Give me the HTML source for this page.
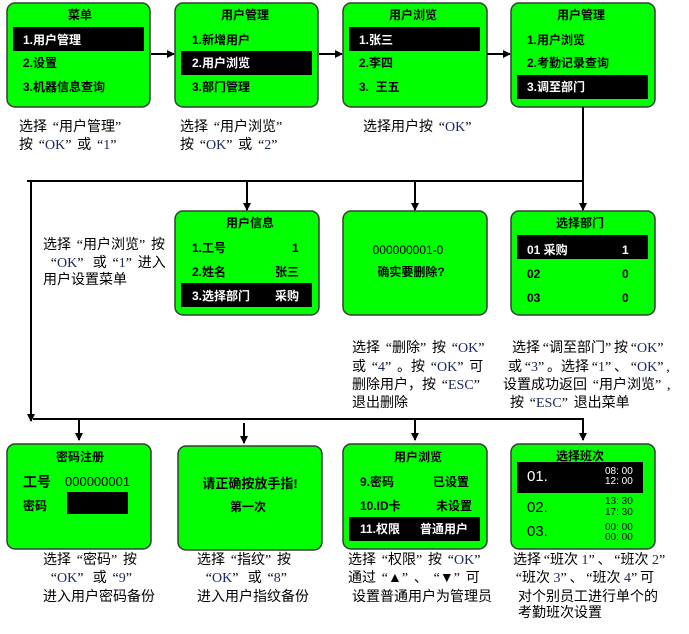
<!DOCTYPE html>
<html><head><meta charset="utf-8">
<style>
html,body{margin:0;padding:0;background:#fff;}
#c{position:relative;width:689px;height:634px;overflow:hidden;background:#fff;}
svg{position:absolute;left:0;top:0;}
.t{position:absolute;white-space:nowrap;font-family:"Liberation Sans","WenQuanYi Zen Hei","Noto Sans CJK SC",sans-serif;font-weight:bold;font-size:12px;line-height:14px;color:#000;}
.w{color:#fff;}
.ctr{text-align:center;}
.cap{position:absolute;white-space:nowrap;font-family:"Liberation Serif","Noto Sans CJK SC",sans-serif;font-size:14px;line-height:18px;color:#000;}
.cap b{font-weight:normal;color:#1a2a60;}
.cap i{font-style:normal;display:inline-block;width:12px;}
.cap i.o{text-align:right;}
.cap i.c{text-align:left;}
.cap.n i{width:9px;}
</style></head><body>
<div id="c">
<svg width="689" height="634" viewBox="0 0 689 634">
<defs>
<marker id="a" markerWidth="8" markerHeight="8" refX="7" refY="4" orient="auto" markerUnits="userSpaceOnUse">
<path d="M0,0 L8,4 L0,8 z" fill="#000"/>
</marker>
</defs>
<g fill="#00ff00" stroke="#3a3a3a" stroke-width="1.5">
<rect x="7" y="3" width="143" height="104" rx="8"/>
<rect x="175" y="3" width="143" height="104" rx="8"/>
<rect x="343" y="3" width="144" height="104" rx="8"/>
<rect x="511" y="3" width="144" height="104" rx="8"/>
<rect x="175" y="211" width="144" height="104" rx="8"/>
<rect x="343" y="211" width="144" height="104" rx="8"/>
<rect x="511" y="211" width="144" height="104" rx="8"/>
<rect x="7" y="444" width="144" height="105" rx="8"/>
<rect x="178" y="446" width="144" height="104" rx="8"/>
<rect x="343" y="444" width="144" height="105" rx="8"/>
<rect x="511" y="444" width="144" height="105" rx="8"/>
</g>
<g fill="#000">
<rect x="13" y="27" width="131" height="24"/>
<rect x="181" y="51" width="131" height="24"/>
<rect x="349" y="27" width="131" height="24"/>
<rect x="517" y="75" width="131" height="24"/>
<rect x="181" y="283" width="131" height="24"/>
<rect x="517" y="235" width="131" height="24"/>
<rect x="67" y="492" width="61" height="22"/>
<rect x="349" y="517" width="131" height="24"/>
<rect x="517" y="462" width="126" height="31"/>
</g>
<g stroke="#000" stroke-width="2" fill="none">
<line x1="151" y1="54" x2="174" y2="54" marker-end="url(#a)"/>
<line x1="319" y1="54" x2="342" y2="54" marker-end="url(#a)"/>
<line x1="487" y1="54" x2="510" y2="54" marker-end="url(#a)"/>
<line x1="583" y1="107" x2="583" y2="181"/>
<line x1="27" y1="181" x2="584" y2="181"/>
<line x1="247" y1="181" x2="247" y2="210" marker-end="url(#a)"/>
<line x1="415" y1="181" x2="415" y2="210" marker-end="url(#a)"/>
<line x1="583" y1="181" x2="583" y2="210" marker-end="url(#a)"/>
<line x1="31" y1="182" x2="31" y2="421" marker-end="url(#a)"/>
<line x1="33" y1="419" x2="584" y2="419"/>
<line x1="79" y1="419" x2="79" y2="440" marker-end="url(#a)"/>
<line x1="244" y1="423" x2="244" y2="443" marker-end="url(#a)"/>
<line x1="415" y1="419" x2="415" y2="440" marker-end="url(#a)"/>
<line x1="583" y1="419" x2="583" y2="440" marker-end="url(#a)"/>
</g>
</svg>

<!-- Box1 -->
<div class="t ctr" style="left:7px;width:146px;top:8px;">菜单</div>
<div class="t w" style="left:23px;top:33px;">1.用户管理</div>
<div class="t" style="left:23px;top:56px;">2.设置</div>
<div class="t" style="left:23px;top:80px;">3.机器信息查询</div>
<!-- Box2 -->
<div class="t ctr" style="left:175px;width:140px;top:8px;">用户管理</div>
<div class="t" style="left:192px;top:33px;">1.新增用户</div>
<div class="t w" style="left:192px;top:56px;">2.用户浏览</div>
<div class="t" style="left:192px;top:80px;">3.部门管理</div>
<!-- Box3 -->
<div class="t ctr" style="left:343px;width:140px;top:8px;">用户浏览</div>
<div class="t w" style="left:359px;top:33px;">1.张三</div>
<div class="t" style="left:359px;top:56px;">2.李四</div>
<div class="t" style="left:359px;top:80px;">3.&nbsp;&nbsp;王五</div>
<!-- Box4 -->
<div class="t ctr" style="left:511px;width:140px;top:8px;">用户管理</div>
<div class="t" style="left:527px;top:33px;">1.用户浏览</div>
<div class="t" style="left:527px;top:56px;">2.考勤记录查询</div>
<div class="t w" style="left:527px;top:80px;">3.调至部门</div>

<!-- Box5 -->
<div class="t ctr" style="left:175px;width:150px;top:216px;">用户信息</div>
<div class="t" style="left:192px;top:241px;">1.工号</div>
<div class="t" style="left:292px;top:241px;">1</div>
<div class="t" style="left:192px;top:265px;">2.姓名</div>
<div class="t" style="left:275px;top:265px;">张三</div>
<div class="t w" style="left:192px;top:289px;">3.选择部门</div>
<div class="t w" style="left:275px;top:289px;">采购</div>
<!-- Box6 -->
<div class="t ctr" style="left:343px;width:130px;top:243px;font-weight:normal;">000000001-0</div>
<div class="t ctr" style="left:343px;width:136px;top:265px;">确实要删除?</div>
<!-- Box7 -->
<div class="t ctr" style="left:511px;width:138px;top:216px;">选择部门</div>
<div class="t w" style="left:527px;top:243px;">01&nbsp;采购</div>
<div class="t w" style="left:622px;top:243px;">1</div>
<div class="t" style="left:527px;top:267px;">02</div>
<div class="t" style="left:622px;top:267px;">0</div>
<div class="t" style="left:527px;top:291px;">03</div>
<div class="t" style="left:622px;top:291px;">0</div>

<!-- Box8 -->
<div class="t ctr" style="left:7px;width:146px;top:450px;">密码注册</div>
<div class="t" style="left:23px;top:474px;font-size:14px;line-height:16px;">工号</div>
<div class="t" style="left:65px;top:475px;font-weight:normal;font-size:13px;">000000001</div>
<div class="t" style="left:23px;top:499px;">密码</div>
<!-- Box9 -->
<div class="t ctr" style="left:178px;width:144px;top:476px;font-size:13px;line-height:16px;">请正确按放手指!</div>
<div class="t ctr" style="left:178px;width:140px;top:500px;">第一次</div>
<!-- Box10 -->
<div class="t ctr" style="left:343px;width:150px;top:450px;">用户浏览</div>
<div class="t" style="left:360px;top:475px;">9.密码</div>
<div class="t" style="left:433px;top:475px;">已设置</div>
<div class="t" style="left:360px;top:499px;">10.ID卡</div>
<div class="t" style="left:436px;top:499px;">未设置</div>
<div class="t w" style="left:360px;top:522px;">11.权限</div>
<div class="t w" style="left:420px;top:522px;">普通用户</div>
<!-- Box11 -->
<div class="t ctr" style="left:511px;width:138px;top:449px;">选择班次</div>
<div class="t w" style="left:527px;top:469px;font-weight:normal;font-size:15px;line-height:16px;">01.</div>
<div class="t w" style="left:605px;top:466px;font-weight:normal;font-size:10px;line-height:12px;">08:&nbsp;00</div>
<div class="t w" style="left:605px;top:476px;font-weight:normal;font-size:10px;line-height:12px;">12:&nbsp;00</div>
<div class="t" style="left:527px;top:500px;font-weight:normal;font-size:15px;line-height:16px;">02.</div>
<div class="t" style="left:605px;top:496px;font-weight:normal;font-size:10px;line-height:12px;">13:&nbsp;30</div>
<div class="t" style="left:605px;top:507px;font-weight:normal;font-size:10px;line-height:12px;">17:&nbsp;30</div>
<div class="t" style="left:527px;top:524px;font-weight:normal;font-size:15px;line-height:16px;">03.</div>
<div class="t" style="left:605px;top:522px;font-weight:normal;font-size:10px;line-height:12px;">00:&nbsp;00</div>
<div class="t" style="left:605px;top:532px;font-weight:normal;font-size:10px;line-height:12px;">00:&nbsp;00</div>

<!-- Captions row 1 -->
<div class="cap" style="left:19px;top:119px;">选择<i class="o">“</i>用户管理<i class="c">”</i></div>
<div class="cap" style="left:19px;top:137px;">按<i class="o">“</i><b>OK</b><i class="c">”</i>或<i class="o">“</i><b>1</b><i class="c">”</i></div>
<div class="cap" style="left:180px;top:119px;">选择<i class="o">“</i>用户浏览<i class="c">”</i></div>
<div class="cap" style="left:180px;top:137px;">按<i class="o">“</i><b>OK</b><i class="c">”</i>或<i class="o">“</i><b>2</b><i class="c">”</i></div>
<div class="cap" style="left:363px;top:119px;">选择用户按<i class="o">“</i><b>OK</b><i class="c">”</i></div>

<!-- Captions row 2 -->
<div class="cap" style="left:43px;top:237px;">选择<i class="o">“</i>用户浏览<i class="c">”</i>按</div>
<div class="cap" style="left:45px;top:255px;"><i class="o">“</i><b>OK</b><i class="c">”</i> 或<i class="o">“</i><b>1</b><i class="c">”</i>进入</div>
<div class="cap" style="left:43px;top:272px;">用户设置菜单</div>

<div class="cap" style="left:352px;top:340px;">选择<i class="o">“</i>删除<i class="c">”</i>按<i class="o">“</i><b>OK</b><i class="c">”</i></div>
<div class="cap" style="left:352px;top:359px;">或<i class="o">“</i><b>4</b><i class="c">”</i>。按<i class="o">“</i><b>OK</b><i class="c">”</i>可</div>
<div class="cap" style="left:352px;top:377px;">删除用户，按<i class="o">“</i><b>ESC</b><i class="c">”</i></div>
<div class="cap" style="left:352px;top:395px;">退出删除</div>

<div class="cap n" style="left:512px;top:340px;">选择<i class="o">“</i>调至部门<i class="c">”</i>按<i class="o">“</i><b>OK</b><i class="c">”</i></div>
<div class="cap n" style="left:508px;top:359px;">或<i class="o">“</i><b>3</b><i class="c">”</i>。选择<i class="o">“</i><b>1</b><i class="c">”</i>、<i class="o">“</i><b>OK</b><i class="c">”</i>,</div>
<div class="cap" style="left:503px;top:377px;">设置成功返回<i class="o">“</i>用户浏览<i class="c">”</i>,</div>
<div class="cap" style="left:510px;top:395px;">按<i class="o">“</i><b>ESC</b><i class="c">”</i>退出菜单</div>

<!-- Captions row 3 -->
<div class="cap" style="left:43px;top:552px;">选择<i class="o">“</i>密码<i class="c">”</i>按</div>
<div class="cap" style="left:45px;top:570px;"><i class="o">“</i><b>OK</b><i class="c">”</i> 或<i class="o">“</i><b>9</b><i class="c">”</i></div>
<div class="cap" style="left:43px;top:589px;">进入用户密码备份</div>

<div class="cap" style="left:197px;top:552px;">选择<i class="o">“</i>指纹<i class="c">”</i>按</div>
<div class="cap" style="left:200px;top:570px;"><i class="o">“</i><b>OK</b><i class="c">”</i> 或<i class="o">“</i><b>8</b><i class="c">”</i></div>
<div class="cap" style="left:197px;top:589px;">进入用户指纹备份</div>

<div class="cap" style="left:348px;top:552px;">选择<i class="o">“</i>权限<i class="c">”</i>按<i class="o">“</i><b>OK</b><i class="c">”</i></div>
<div class="cap" style="left:348px;top:570px;">通过<i class="o">“</i>▲<i class="c">”</i>、<i class="o">“</i>▼<i class="c">”</i>可</div>
<div class="cap" style="left:352px;top:589px;">设置普通用户为管理员</div>

<div class="cap n" style="left:513px;top:552px;">选择<i class="o">“</i>班次 <b>1</b><i class="c">”</i>、<i class="o">“</i>班次 <b>2</b><i class="c">”</i></div>
<div class="cap n" style="left:513px;top:570px;"><i class="o">“</i>班次 <b>3</b><i class="c">”</i>、<i class="o">“</i>班次 <b>4</b><i class="c">”</i>可</div>
<div class="cap" style="left:518px;top:589px;">对个别员工进行单个的</div>
<div class="cap" style="left:518px;top:605px;">考勤班次设置</div>
</div>
</body></html>
